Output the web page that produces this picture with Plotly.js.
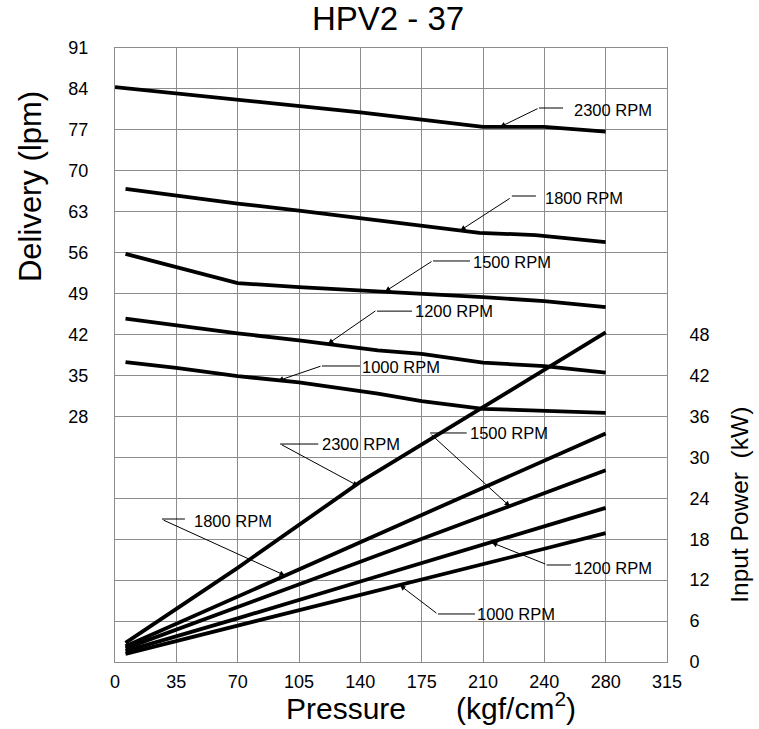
<!DOCTYPE html>
<html><head><meta charset="utf-8">
<script src="https://cdn.plot.ly/plotly-3.0.1.min.js"></script>
<style>html,body{margin:0;padding:0;background:#fff}#chart{width:759px;height:729px}</style>
</head><body><div id="chart"></div>
<script>
// ---------- data ----------
const chartTitle = 'HPV2 - 37';
const rpmLabels = ['2300 RPM', '1800 RPM', '1500 RPM', '1200 RPM', '1000 RPM'];

const xTickVals = [0, 35, 70, 105, 140, 175, 210, 245, 280, 315];
const xTickText = ['0', '35', '70', '105', '140', '175', '210', '240', '280', '315'];
const deliveryTickVals = [-14, -7, 0, 7, 14, 21, 28, 35, 42, 49, 56, 63, 70, 77, 84, 91];
const deliveryTickText = ['', '', '', '', '', '', '28', '35', '42', '49', '56', '63', '70', '77', '84', '91'];
const powerTickVals = [0, 6, 12, 18, 24, 30, 36, 42, 48];

// Delivery (lpm) vs pressure
const delivX2300 = [0, 35, 70, 105, 140, 210, 245, 280];
const delivY2300 = [84.3, 83.2, 82.15, 81.1, 80.0, 77.5, 77.5, 76.7];
const delivX1800 = [6, 35, 70, 105, 150, 208, 240, 280];
const delivY1800 = [66.9, 65.7, 64.4, 63.2, 61.6, 59.4, 59.0, 57.8];
const delivX1500 = [6, 70, 105, 150, 175, 210, 245, 280];
const delivY1500 = [55.8, 50.8, 50.1, 49.4, 49.1, 48.4, 47.7, 46.7];
const delivX1200 = [6, 35, 70, 105, 150, 175, 210, 245, 280];
const delivY1200 = [44.7, 43.5, 42.2, 41.0, 39.3, 38.7, 37.2, 36.6, 35.5];
const delivX1000 = [6, 35, 70, 105, 150, 175, 210, 245, 280];
const delivY1000 = [37.3, 36.3, 34.9, 33.8, 31.9, 30.6, 29.3, 28.9, 28.6];

// Input power (kW) vs pressure
const powerX = [6, 70, 140, 210, 245, 280];
const power2300 = [2.8, 13.8, 26.4, 37.4, 42.8, 48.3];
const power1800 = [2.3, 9.6, 17.6, 25.5, 29.5, 33.5];
const power1500 = [2.0, 8.0, 14.7, 21.4, 24.8, 28.1];
const power1200 = [1.6, 6.4, 11.8, 17.2, 19.9, 22.6];
const power1000 = [1.2, 5.3, 9.8, 14.3, 16.6, 18.9];

// ---------- styling ----------
const FONT = 'Liberation Sans, Arial, Helvetica, sans-serif';
const GRID = '#8c8c8c';
const LW = 3.8;

function curve(x, y, axis) {
  return {type: 'scatter', mode: 'lines', x: x, y: y, yaxis: axis,
          line: {color: '#000', width: LW}, hoverinfo: 'skip'};
}

const traces = [
  curve(delivX2300, delivY2300, 'y'),
  curve(delivX1800, delivY1800, 'y'),
  curve(delivX1500, delivY1500, 'y'),
  curve(delivX1200, delivY1200, 'y'),
  curve(delivX1000, delivY1000, 'y'),
  curve(powerX, power2300, 'y2'),
  curve(powerX, power1800, 'y2'),
  curve(powerX, power1500, 'y2'),
  curve(powerX, power1200, 'y2'),
  curve(powerX, power1000, 'y2')
];

// callouts: label index, axis, tip (data), tail offset (px), leader segment (data), text pos (data)
const callouts = [
  {i: 0, yr: 'y',  tip: [219.7, 77.5], a: [39, -19],  seg: [242.0, 255.7, 80.74], txt: [261.0, 80.4]},
  {i: 1, yr: 'y',  tip: [197.0, 59.8], a: [51, -33],  seg: [226.5, 240.2, 65.69], txt: [244.5, 65.35]},
  {i: 2, yr: 'y',  tip: [154.1, 49.35], a: [48, -31], seg: [181.5, 202.6, 54.58], txt: [203.0, 54.4]},
  {i: 3, yr: 'y',  tip: [121.5, 40.4], a: [49, -34],  seg: [149.5, 169.5, 46.0],  txt: [170.0, 46.0]},
  {i: 4, yr: 'y',  tip: [93.0, 34.1],  a: [44, -15],  seg: [118.1, 139.8, 36.62], txt: [140.0, 36.45]},
  {i: 0, yr: 'y2', tip: [138.8, 25.8], a: [-78, -42], seg: [94.2, 116.0, 31.95],  txt: [117.0, 31.95]},
  {i: 2, yr: 'y2', tip: [225.4, 22.8], a: [-80, -73], seg: [179.8, 200.7, 33.57], txt: [201.5, 33.52]},
  {i: 1, yr: 'y2', tip: [97.0, 12.69], a: [-123, -56], seg: [26.8, 39.9, 20.96],  txt: [44.0, 20.7]},
  {i: 3, yr: 'y2', tip: [215.0, 17.5], a: [55, 22],   seg: [246.3, 260.2, 14.22], txt: [260.5, 13.8]},
  {i: 4, yr: 'y2', tip: [162.6, 11.25], a: [38, 29],  seg: [184.3, 205.4, 7.04],  txt: [205.2, 7.0]}
];

const annotations = [];
const shapes = [];
callouts.forEach(c => {
  annotations.push({x: c.tip[0], y: c.tip[1], xref: 'x', yref: c.yr, ax: c.a[0], ay: c.a[1],
    axref: 'pixel', ayref: 'pixel', text: '', showarrow: true, arrowhead: 2, arrowsize: 1.1,
    arrowwidth: 1, arrowcolor: '#000', standoff: 0});
  annotations.push({x: c.txt[0], y: c.txt[1], xref: 'x', yref: c.yr, text: rpmLabels[c.i],
    showarrow: false, xanchor: 'left', yanchor: 'middle', font: {family: FONT, size: 16.5, color: '#000'}});
  shapes.push({type: 'line', xref: 'x', yref: c.yr, x0: c.seg[0], x1: c.seg[1], y0: c.seg[2], y1: c.seg[2],
    line: {color: '#000', width: 1}});
});

// axis titles
annotations.push({xref: 'paper', yref: 'paper', x: 0.5725, y: -0.1059, xanchor: 'center', yanchor: 'bottom',
  text: 'Pressure\u00a0\u00a0\u00a0\u00a0\u00a0\u00a0(kgf/cm<sup>2</sup>)', showarrow: false,
  font: {family: FONT, size: 30, color: '#000'}});
annotations.push({xref: 'paper', yref: 'paper', x: -0.1540, y: 0.7752, xanchor: 'center', yanchor: 'middle',
  text: 'Delivery (lpm)', textangle: -90, showarrow: false,
  font: {family: FONT, size: 31, color: '#000'}});
annotations.push({xref: 'paper', yref: 'paper', x: 1.1300, y: 0.2557, xanchor: 'center', yanchor: 'middle',
  text: 'Input Power\u00a0\u00a0(kW)', textangle: -90, showarrow: false,
  font: {family: FONT, size: 24.5, color: '#000'}});

const layout = {
  width: 759, height: 729,
  margin: {l: 115, r: 92, t: 48, b: 67, pad: 0},
  paper_bgcolor: '#fff', plot_bgcolor: '#fff',
  showlegend: false,
  font: {family: FONT, color: '#000', size: 18},
  title: {text: chartTitle, font: {family: FONT, size: 33, color: '#000'},
          xref: 'container', yref: 'container', x: 388 / 759, xanchor: 'center',
          y: 1 - 18 / 729, yanchor: 'middle'},
  xaxis: {range: [0, 315], tickmode: 'array', tickvals: xTickVals, ticktext: xTickText,
          showgrid: true, gridcolor: GRID, gridwidth: 1, zeroline: false,
          showline: true, mirror: true, linecolor: GRID, linewidth: 1,
          ticks: 'outside', ticklen: 3, tickcolor: 'rgba(0,0,0,0)',
          tickfont: {family: FONT, size: 18, color: '#000'}, fixedrange: true},
  yaxis: {range: [-14, 91], tickmode: 'array', tickvals: deliveryTickVals, ticktext: deliveryTickText,
          showgrid: true, gridcolor: GRID, gridwidth: 1, zeroline: false,
          showline: true, mirror: true, linecolor: GRID, linewidth: 1,
          ticks: 'outside', ticklen: 22, tickcolor: 'rgba(0,0,0,0)',
          tickfont: {family: FONT, size: 18, color: '#000'}, fixedrange: true},
  yaxis2: {range: [0, 90], overlaying: 'y', side: 'right', tickmode: 'array', tickvals: powerTickVals,
           showgrid: false, zeroline: false, showline: false,
           ticks: 'outside', ticklen: 18, tickcolor: 'rgba(0,0,0,0)',
           tickfont: {family: FONT, size: 18, color: '#000'}, fixedrange: true},
  annotations: annotations,
  shapes: shapes
};

Plotly.newPlot('chart', traces, layout, {staticPlot: true, displayModeBar: false});
</script>
</body></html>
